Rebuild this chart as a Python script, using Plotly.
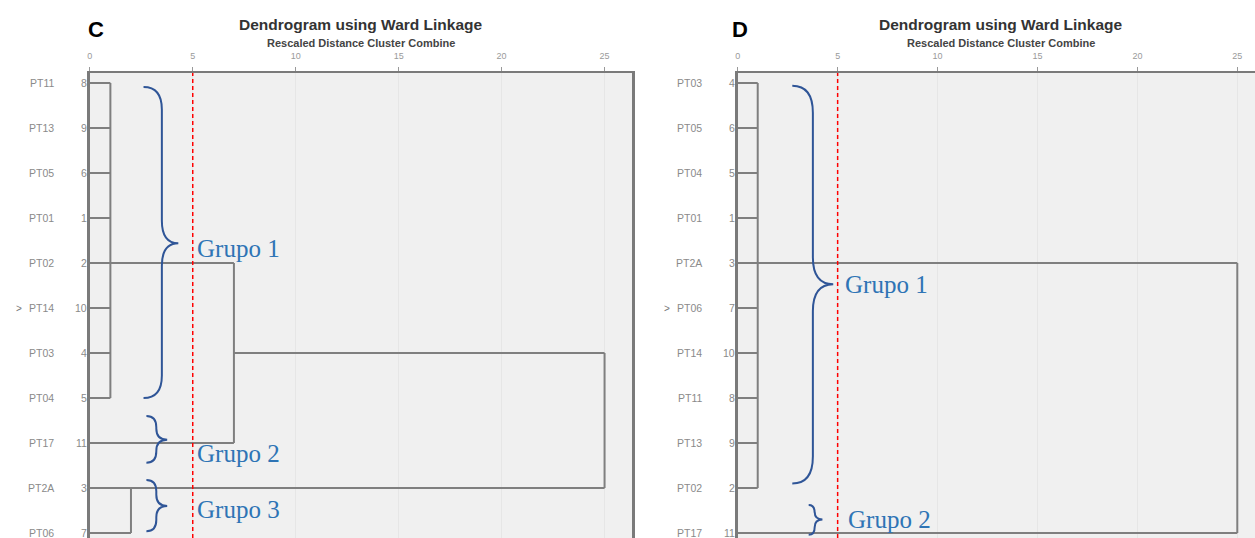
import plotly.graph_objects as go

# ---------------- data ----------------
C_names = ["PT11", "PT13", "PT05", "PT01", "PT02", "PT14", "PT03", "PT04", "PT17", "PT2A", "PT06"]
C_cases = [8, 9, 6, 1, 2, 10, 4, 5, 11, 3, 7]
C_merge_children = [[0, 1, 2, 3, 4, 5, 6, 7], [9, 10], [11, 8], [13, 12]]
C_merge_height = [1.0, 2.0, 7.0, 25.0]
C_merge_row = [4, 9, 6, 7]
C_marked_row = 5

D_names = ["PT03", "PT05", "PT04", "PT01", "PT2A", "PT06", "PT14", "PT11", "PT13", "PT02", "PT17"]
D_cases = [4, 6, 5, 1, 3, 7, 10, 8, 9, 2, 11]
D_merge_children = [[0, 1, 2, 3, 4, 5, 6, 7, 8, 9], [11, 10]]
D_merge_height = [1.0, 25.0]
D_merge_row = [4, 7]
D_marked_row = 5

cut_distance = 5
axis_ticks = [0, 5, 10, 15, 20, 25]
title_text = "Dendrogram using Ward Linkage"
subtitle_text = "Rescaled Distance Cluster Combine"

# ---------------- layout geometry ----------------
W, H = 1255, 538
TOP_PX, ROW0_PX, ROW_PX = 73, 83, 45
y_dom_top = 1 - TOP_PX / H
y_range = [(H - ROW0_PX) / ROW_PX, (TOP_PX - ROW0_PX) / ROW_PX]

C_x0, C_scale, C_right = 87.0, 20.64, 631.0
D_x0, D_scale, D_right = 736.5, 20.03, 1255.0

LINE_COL = "#7f7f7f"
BRACE_COL = "#2F5597"
GRUPO_COL = "#2E74B5"
LABEL_COL = "#8a8a8a"


def dendro_segments(n, children, heights, rows):
    xs, ys = [], []
    node_x = [0.0] * n
    node_row = list(range(n))
    for ch, h, r in zip(children, heights, rows):
        rs = [node_row[c] for c in ch]
        xs += [h, h, None]
        ys += [min(rs), max(rs), None]
        for c in ch:
            xs += [node_x[c], h, None]
            ys += [node_row[c], node_row[c], None]
        node_x.append(h)
        node_row.append(r)
    return xs, ys


def brace_path(xe, xs, xt, yt, yb, ym, r):
    return (f"M {xe},{yt} Q {xs},{yt} {xs},{yt + r} L {xs},{ym - r} "
            f"Q {xs},{ym} {xt},{ym} Q {xs},{ym} {xs},{ym + r} "
            f"L {xs},{yb - r} Q {xs},{yb} {xe},{yb}")


fig = go.Figure()
annotations = []
shapes = []

panels = [
    dict(names=C_names, cases=C_cases, ch=C_merge_children, h=C_merge_height, rows=C_merge_row,
         mark=C_marked_row, x0=C_x0, scale=C_scale, right=C_right, ctr_right=C_right,
         letter="C", letter_px=93, mirror=True,
         braces=[(2.61, 3.5, 4.3, 0.09, 7.0, 3.56, 0.5),
                 (2.75, 3.23, 3.76, 7.4, 8.44, 7.93, 0.25),
                 (2.75, 3.23, 3.76, 8.82, 9.96, 9.4, 0.25)],
         grupos=[("Grupo 1", 5.1, 3.67), ("Grupo 2", 5.1, 8.24), ("Grupo 3", 5.1, 9.47)]),
    dict(names=D_names, cases=D_cases, ch=D_merge_children, h=D_merge_height, rows=D_merge_row,
         mark=D_marked_row, x0=D_x0, scale=D_scale, right=D_right, ctr_right=1265.0,
         letter="D", letter_px=739, mirror=False,
         braces=[(2.73, 3.76, 4.78, 0.06, 8.9, 4.47, 0.6),
                 (3.55, 3.85, 4.24, 9.38, 10.04, 9.7, 0.17)],
         grupos=[("Grupo 1", 5.28, 4.47), ("Grupo 2", 5.4, 9.69)]),
]

layout_axes = {}
for i, p in enumerate(panels):
    n = len(p["names"])
    xr = "x" if i == 0 else "x2"
    yr = "y" if i == 0 else "y2"
    xs, ys = dendro_segments(n, p["ch"], p["h"], p["rows"])
    fig.add_trace(go.Scatter(x=xs, y=ys, mode="lines", xaxis=xr, yaxis=yr,
                             line=dict(color=LINE_COL, width=2), hoverinfo="skip"))
    fig.add_trace(go.Scatter(x=[cut_distance, cut_distance], y=y_range, mode="lines",
                             xaxis=xr, yaxis=yr,
                             line=dict(color="#FF0000", width=1.5, dash="4px,3px"), hoverinfo="skip"))
    for r, (nm, cs) in enumerate(zip(p["names"], p["cases"])):
        annotations.append(dict(x=0, y=r, xref=xr, yref=yr, text=nm, showarrow=False,
                                xanchor="right", yanchor="middle", xshift=-34,
                                font=dict(family="Liberation Sans", size=10.5, color=LABEL_COL)))
        annotations.append(dict(x=0, y=r, xref=xr, yref=yr, text=str(cs), showarrow=False,
                                xanchor="right", yanchor="middle", xshift=-1,
                                font=dict(family="Liberation Sans", size=10.5, color=LABEL_COL)))
    annotations.append(dict(x=0, y=p["mark"], xref=xr, yref=yr, text=">", showarrow=False,
                            xanchor="right", yanchor="middle", xshift=-66,
                            font=dict(family="Liberation Sans", size=10, color="#777777")))
    for (xe, xsp, xt, yt, yb, ym, rr) in p["braces"]:
        shapes.append(dict(type="path", xref=xr, yref=yr,
                           path=brace_path(xe, xsp, xt, yt, yb, ym, rr),
                           line=dict(color=BRACE_COL, width=2)))
    for (txt, gx, gy) in p["grupos"]:
        annotations.append(dict(x=gx, y=gy, xref=xr, yref=yr, text=txt, showarrow=False,
                                xanchor="left", yanchor="middle",
                                font=dict(family="Liberation Serif", size=25, color=GRUPO_COL)))
    # titles
    cx = (p["x0"] + p["ctr_right"]) / 2 / W
    annotations.append(dict(x=cx, y=1 - 24 / H, xref="paper", yref="paper", text=f"<b>{title_text}</b>",
                            showarrow=False, xanchor="center", yanchor="middle",
                            font=dict(family="Liberation Sans", size=15.5, color="#333333")))
    annotations.append(dict(x=cx, y=1 - 43 / H, xref="paper", yref="paper", text=f"<b>{subtitle_text}</b>",
                            showarrow=False, xanchor="center", yanchor="middle",
                            font=dict(family="Liberation Sans", size=11, color="#444444")))
    annotations.append(dict(x=p["letter_px"] / W, y=1 - 29 / H, xref="paper", yref="paper",
                            text=f"<b>{p['letter']}</b>", showarrow=False, xanchor="center",
                            yanchor="middle", font=dict(family="Liberation Sans", size=22, color="#000000")))

    xkey = "xaxis" if i == 0 else "xaxis2"
    ykey = "yaxis" if i == 0 else "yaxis2"
    layout_axes[xkey] = dict(domain=[p["x0"] / W, p["right"] / W],
                             range=[0, (p["right"] - p["x0"]) / p["scale"]],
                             side="top", anchor=yr, tickvals=axis_ticks, ticks="outside", ticklen=4,
                             tickcolor="#999999", tickfont=dict(family="Liberation Sans", size=9, color="#9a9a9a"),
                             ticklabelstandoff=4,
                             showline=True, linecolor="#7a7a7a", linewidth=2, mirror=False,
                             showgrid=True, gridcolor="#e6e6e6", zeroline=False, fixedrange=True)
    layout_axes[ykey] = dict(domain=[0, y_dom_top], range=y_range, anchor=xr,
                             showticklabels=False, ticks="", showgrid=False, zeroline=False,
                             showline=True, linecolor="#7a7a7a", linewidth=2.5,
                             mirror=p["mirror"], fixedrange=True)

fig.update_layout(width=W, height=H, autosize=False, margin=dict(l=0, r=0, t=0, b=0),
                  paper_bgcolor="#ffffff", plot_bgcolor="#f0f0f0", showlegend=False,
                  annotations=annotations, shapes=shapes, **layout_axes)

fig.write_html("out.html", config={"displayModeBar": False},
               post_script="document.body.style.margin='0';document.body.style.overflow='hidden';")
